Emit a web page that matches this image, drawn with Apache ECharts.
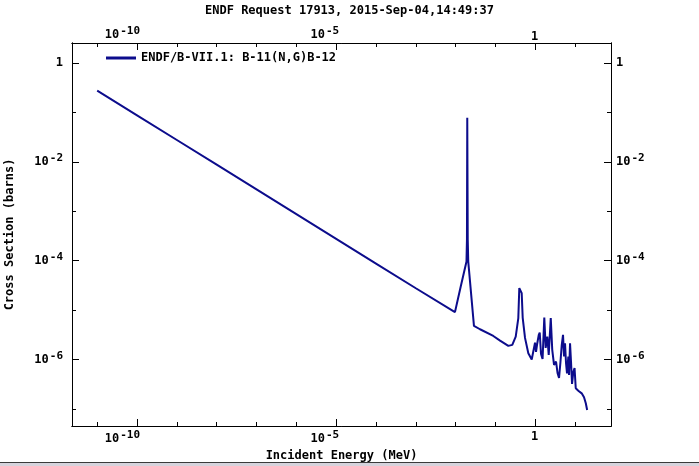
<!DOCTYPE html>
<html><head><meta charset="utf-8">
<script src="https://cdn.jsdelivr.net/npm/echarts@6/dist/echarts.min.js"></script>
<style>html,body{margin:0;padding:0;background:#fff;overflow:hidden}#c{width:699px;height:466px}</style>
</head><body><div id="c"></div>
<script>
const titleText = 'ENDF Request 17913, 2015-Sep-04,14:49:37';
const seriesName = 'ENDF/B-VII.1: B-11(N,G)B-12';
const xAxisName = 'Incident Energy (MeV)';
const yAxisName = 'Cross Section (barns)';

// Incident energy (MeV)
const energyMeV = [
  1e-11, 1e-10, 1e-9, 1e-8, 1e-7, 1e-6, 1e-5, 1e-4, 1e-3, 9.6e-3,
  1.34e-2, 1.87e-2, 1.92e-2, 1.955e-2, 2.01e-2, 2.07e-2, 2.88e-2, 4.08e-2, 8.8e-2, 0.130,
  0.210, 0.264, 0.322, 0.374, 0.396, 0.420, 0.455, 0.482, 0.551, 0.667,
  0.812, 0.901, 0.983, 1.04, 1.12, 1.22, 1.29, 1.39, 1.52, 1.68,
  1.82, 2.0, 2.17, 2.44, 2.66, 2.95, 3.31, 3.61, 3.94, 4.25,
  4.61, 4.96, 5.26, 5.57, 5.9, 6.25, 6.74, 7.03, 7.44, 7.88,
  8.35, 9.0, 9.66, 10.35, 12.0, 14.6, 16.7, 18.5, 20.0
];
// Cross section (barns)
const xsBarns = [
  0.277, 0.0875, 0.0277, 0.00875, 0.00277, 8.75e-4, 2.77e-4, 8.75e-5, 2.77e-5, 9.1e-6,
  3.0e-5, 9.6e-5, 2.65e-4, 0.0776, 2.65e-4, 9.6e-5, 4.8e-6, 4.1e-6, 3.0e-6, 2.42e-6,
  1.89e-6, 1.98e-6, 2.91e-6, 6.9e-6, 2.79e-5, 3.0e-5, 2.2e-5, 7.0e-6, 2.74e-6, 1.34e-6,
  1.0e-6, 1.03e-6, 2.2e-6, 1.43e-6, 2.14e-6, 3.15e-6, 3.5e-6, 1.3e-6, 1.03e-6, 7.1e-6,
  1.72e-6, 2.91e-6, 1.24e-6, 6.9e-6, 1.57e-6, 7.8e-7, 9.1e-7, 5.35e-7, 4.24e-7, 8.4e-7,
  1.98e-6, 3.15e-6, 1.15e-6, 2.14e-6, 8.4e-7, 5.27e-7, 1.15e-6, 4.88e-7, 2.14e-6, 8.9e-7,
  3.2e-7, 5.6e-7, 6.76e-7, 2.62e-7, 2.34e-7, 2.07e-7, 1.72e-7, 1.30e-7, 9.5e-8
];

const xLabelTicks = [1e-10, 1e-5, 1];
const xDecadeTicks = [1e-11, 1e-10, 1e-9, 1e-8, 1e-7, 1e-6, 1e-5, 1e-4, 1e-3, 1e-2, 1e-1, 1, 10];
const yLabelTicks = [1e-6, 1e-4, 1e-2, 1];
const yDecadeTicks = [1e-7, 1e-6, 1e-5, 1e-4, 1e-3, 1e-2, 1e-1, 1];

const X_MIN = Math.pow(10, -11.633), X_MAX = Math.pow(10, 1.90);
const Y_MIN = Math.pow(10, -7.345), Y_MAX = Math.pow(10, 0.405);

const FONT = 'DejaVu Sans Mono';
const LINE_COLOR = '#0c0c8c';

function powLabel(v) {
  const e = Math.round(Math.log10(v));
  return e === 0 ? '{b|1}' : '{b|10}{s|' + e + '}';
}
const rich = {
  b: { fontFamily: FONT, fontSize: 12, fontWeight: 'bold', color: '#000', lineHeight: 14 },
  s: { fontFamily: FONT, fontSize: 11, fontWeight: 'bold', color: '#000', padding: [0, 0, 7, 1] }
};

function xAx(pos, labelled) {
  return {
    type: 'log', position: pos, min: X_MIN, max: X_MAX, logBase: 10,
    splitLine: { show: false },
    axisLine: { show: true, lineStyle: { color: '#000', width: 1 } },
    axisTick: { show: true, inside: true, length: labelled ? 7 : 4,
      customValues: labelled ? xLabelTicks : xDecadeTicks, lineStyle: { color: '#000', width: 1 } },
    axisLabel: labelled ? { show: true, customValues: xLabelTicks, formatter: powLabel, rich: rich,
      align: 'right', margin: pos === 'bottom' ? 4 : -1, padding: [0, -3, 0, 0] } : { show: false },
    name: (labelled && pos === 'bottom') ? xAxisName : '',
    nameLocation: 'middle', nameGap: 18,
    nameTextStyle: { fontFamily: FONT, fontSize: 12, fontWeight: 'bold', color: '#000' }
  };
}
function yAx(pos, labelled) {
  return {
    type: 'log', position: pos, min: Y_MIN, max: Y_MAX, logBase: 10,
    splitLine: { show: false },
    axisLine: { show: true, lineStyle: { color: '#000', width: 1 } },
    axisTick: { show: true, inside: true, length: labelled ? 7 : 4,
      customValues: labelled ? yLabelTicks : yDecadeTicks, lineStyle: { color: '#000', width: 1 } },
    axisLabel: labelled ? { show: true, customValues: yLabelTicks, formatter: powLabel, rich: rich,
      margin: pos === 'left' ? 9 : 5 } : { show: false },
    name: (labelled && pos === 'left') ? yAxisName : '',
    nameLocation: 'middle', nameGap: 56, nameRotate: 90,
    nameTextStyle: { fontFamily: FONT, fontSize: 12, fontWeight: 'bold', color: '#000' }
  };
}

const chart = echarts.init(document.getElementById('c'), null, { renderer: 'canvas' });
chart.setOption({
  animation: false,
  backgroundColor: '#fff',
  title: { text: titleText, left: 'center', top: 0,
    textStyle: { fontFamily: FONT, fontSize: 12, fontWeight: 'bold', color: '#000' } },
  legend: {
    show: true, left: 101, top: 47, itemWidth: 30, itemHeight: 3, itemGap: 6,
    icon: 'rect',
    textStyle: { fontFamily: FONT, fontSize: 12, fontWeight: 'bold', color: '#000' },
    data: [{ name: seriesName, itemStyle: { color: LINE_COLOR } }]
  },
  grid: { left: 72, right: 88, top: 43, bottom: 40, containLabel: false, outerBoundsMode: 'none' },
  xAxis: [xAx('bottom', true), xAx('top', true), xAx('bottom', false), xAx('top', false)],
  yAxis: [yAx('left', true), yAx('right', true), yAx('left', false), yAx('right', false)],
  graphic: [
    { type: 'rect', shape: { x: 0, y: 462, width: 699, height: 4 }, style: { fill: '#d6d3dc' }, silent: true },
    { type: 'rect', shape: { x: 0, y: 462, width: 699, height: 1 }, style: { fill: '#3a3a3a' }, silent: true }
  ],
  series: [{
    name: seriesName, type: 'line', xAxisIndex: 0, yAxisIndex: 0,
    data: energyMeV.map((e, i) => [e, xsBarns[i]]),
    showSymbol: false, symbol: 'none',
    lineStyle: { color: LINE_COLOR, width: 2 },
    itemStyle: { color: LINE_COLOR }
  }]
});
</script></body></html>
